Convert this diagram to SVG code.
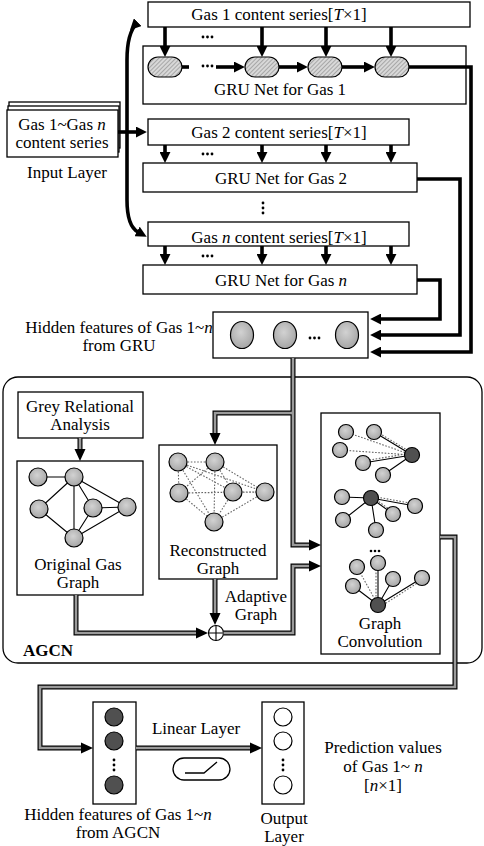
<svg xmlns="http://www.w3.org/2000/svg" width="484" height="846" viewBox="0 0 484 846">
<style>
.box{fill:#fff;stroke:#000;stroke-width:1.3}
.t{font-family:"Liberation Serif","Times New Roman",serif;font-size:17px;fill:#000;text-anchor:middle}
.b{font-weight:bold}
.thick{stroke:#000;stroke-width:3.6;fill:none}
.dout{stroke:#000;stroke-width:5;fill:none}
.din{stroke:#9a9a9a;stroke-width:2.6;fill:none}
.nd{fill:url(#ng);stroke:#000;stroke-width:1.2}
.dk{fill:#505050;stroke:#000;stroke-width:1.2}
.e{stroke:#000;stroke-width:1.1;fill:none}
.ed{stroke:#666;stroke-width:1.1;stroke-dasharray:1.6 1.6;fill:none}
.dot{fill:#000}
</style>
<defs>
<radialGradient id="ng" cx="0.45" cy="0.4" r="0.6">
<stop offset="0" stop-color="#d2d2d2"/>
<stop offset="1" stop-color="#a6a6a6"/>
</radialGradient>
<pattern id="hatch" patternUnits="userSpaceOnUse" width="3" height="3" patternTransform="rotate(45)">
<rect width="3" height="3" fill="#d8d8d8"/>
<line x1="0" y1="0" x2="0" y2="3" stroke="#777" stroke-width="1"/>
</pattern>
<marker id="ah" markerUnits="userSpaceOnUse" viewBox="0 0 10 10" refX="1" refY="5" markerWidth="11" markerHeight="11" orient="auto">
<path d="M0,0 L10,5 L0,10 z" fill="#000"/>
</marker>
</defs>

<!-- Input layer -->
<g id="input-layer">
<rect class="box" x="9" y="102" width="111" height="46"/>
<rect class="box" x="8" y="106" width="111" height="46"/>
<rect class="box" x="7" y="110" width="111" height="47"/>
<text class="t" x="62" y="130">Gas 1~Gas <tspan font-style="italic">n</tspan></text>
<text class="t" x="62" y="148">content series</text>
<text class="t" x="67" y="178">Input Layer</text>
</g>

<!-- Gas 1 -->
<g id="gas1-series">
<rect class="box" x="148" y="2" width="322" height="25"/>
<text class="t" x="279" y="20">Gas 1 content series[<tspan font-style="italic">T</tspan>×1]</text>
</g>
<g id="gru1">
<rect class="box" x="143" y="46" width="323" height="58"/>
<rect x="148" y="57" width="34" height="20" rx="10" fill="url(#hatch)" stroke="#000" stroke-width="1.2"/>
<rect x="245" y="57" width="34" height="20" rx="10" fill="url(#hatch)" stroke="#000" stroke-width="1.2"/>
<rect x="308" y="57" width="34" height="20" rx="10" fill="url(#hatch)" stroke="#000" stroke-width="1.2"/>
<rect x="375" y="57" width="34" height="20" rx="10" fill="url(#hatch)" stroke="#000" stroke-width="1.2"/>
<circle class="dot" cx="203" cy="66" r="1.4"/><circle class="dot" cx="207.5" cy="66" r="1.4"/><circle class="dot" cx="212" cy="66" r="1.4"/>
<text class="t" x="280" y="95">GRU Net for Gas 1</text>
</g>

<!-- Gas 2 -->
<g id="gas2-series">
<rect class="box" x="148" y="119" width="261" height="26"/>
<text class="t" x="279" y="138">Gas 2 content series[<tspan font-style="italic">T</tspan>×1]</text>
</g>
<g id="gru2">
<rect class="box" x="143" y="163" width="274" height="29"/>
<text class="t" x="281" y="184">GRU Net for Gas 2</text>
</g>

<!-- Gas n -->
<g id="gasn-series">
<rect class="box" x="148" y="222" width="261" height="24"/>
<text class="t" x="279" y="243">Gas <tspan font-style="italic">n</tspan> content series[<tspan font-style="italic">T</tspan>×1]</text>
</g>
<g id="grun">
<rect class="box" x="143" y="265" width="274" height="29"/>
<text class="t" x="281" y="286">GRU Net for Gas <tspan font-style="italic">n</tspan></text>
</g>

<!-- dots between -->
<g id="ellipses-gru">
<circle class="dot" cx="203" cy="37" r="1.4"/><circle class="dot" cx="207.5" cy="37" r="1.4"/><circle class="dot" cx="212" cy="37" r="1.4"/>
<circle class="dot" cx="203" cy="154" r="1.4"/><circle class="dot" cx="207.5" cy="154" r="1.4"/><circle class="dot" cx="212" cy="154" r="1.4"/>
<circle class="dot" cx="203" cy="256" r="1.4"/><circle class="dot" cx="207.5" cy="256" r="1.4"/><circle class="dot" cx="212" cy="256" r="1.4"/>
<circle class="dot" cx="263" cy="203" r="1.4"/><circle class="dot" cx="263" cy="208" r="1.4"/><circle class="dot" cx="263" cy="213" r="1.4"/>
</g>

<!-- Hidden features GRU -->
<g id="hidden-gru">
<rect class="box" x="213" y="312" width="155" height="46"/>
<ellipse class="nd" cx="242" cy="335" rx="11.5" ry="13.5"/>
<ellipse class="nd" cx="285" cy="335" rx="11.5" ry="13.5"/>
<ellipse class="nd" cx="347" cy="335" rx="11.5" ry="13.5"/>
<circle class="dot" cx="310" cy="338" r="1.4"/><circle class="dot" cx="314.5" cy="338" r="1.4"/><circle class="dot" cx="319" cy="338" r="1.4"/>
<text class="t" x="119" y="333">Hidden features of Gas 1~<tspan font-style="italic">n</tspan></text>
<text class="t" x="119" y="351">from GRU</text>
</g>

<!-- AGCN container -->
<g id="agcn">
<rect x="3" y="377" width="479" height="286" rx="15" fill="none" stroke="#000" stroke-width="1.3"/>
<text class="t b" x="48" y="656">AGCN</text>
</g>

<g id="grey-relational">
<rect class="box" x="18" y="392" width="125" height="46"/>
<text class="t" x="80" y="412">Grey Relational</text>
<text class="t" x="80" y="430">Analysis</text>
</g>

<g id="original-graph">
<rect class="box" x="17" y="461" width="126" height="134"/>
<path class="e" d="M38,477 L74,477 M74,477 L39,509 M74,477 L74,538 M74,477 L93,508 M74,477 L127,507 M93,508 L127,507 M93,508 L74,538 M39,509 L74,538 M74,538 L127,507"/>
<circle class="nd" cx="38" cy="477" r="9"/>
<circle class="nd" cx="74" cy="477" r="9"/>
<circle class="nd" cx="39" cy="509" r="9"/>
<circle class="nd" cx="93" cy="508" r="9"/>
<circle class="nd" cx="127" cy="507" r="9"/>
<circle class="nd" cx="74" cy="538" r="9"/>
<text class="t" x="78" y="570">Original Gas</text>
<text class="t" x="78" y="588">Graph</text>
</g>

<g id="reconstructed-graph">
<rect class="box" x="159" y="445" width="118" height="134"/>
<path class="ed" d="M178,462 L215,462 M178,462 L179,493 M178,462 L233,492 M178,462 L265,492 M178,462 L214,522 M215,462 L179,493 M215,462 L233,492 M215,462 L265,492 M215,462 L214,522 M179,493 L233,492 M179,493 L214,522 M233,492 L265,492 M233,492 L214,522 M265,492 L214,522 M179,493 L265,492"/>
<circle class="nd" cx="178" cy="462" r="9"/>
<circle class="nd" cx="215" cy="462" r="9"/>
<circle class="nd" cx="179" cy="493" r="9"/>
<circle class="nd" cx="233" cy="492" r="9"/>
<circle class="nd" cx="265" cy="492" r="9"/>
<circle class="nd" cx="214" cy="522" r="9"/>
<text class="t" x="218" y="556">Reconstructed</text>
<text class="t" x="218" y="574">Graph</text>
</g>

<g id="adaptive-sum">
<circle cx="216" cy="633" r="7.5" fill="#fff" stroke="#000" stroke-width="1.2"/>
<path d="M208.5,633 H223.5 M216,625.5 V640.5" stroke="#000" stroke-width="1.1"/>
<text class="t" x="256" y="602">Adaptive</text>
<text class="t" x="256" y="620">Graph</text>
</g>

<g id="graph-convolution">
<rect class="box" x="321" y="413" width="119" height="241"/>
<!-- group 1 -->
<path class="ed" d="M346,432 L412,455 M374,430 L412,453 M340,450 L412,455 M363,461 L412,453"/>
<path class="e" d="M374,432 L412,455 M363,463 L412,455 M383,475 L412,455"/>
<circle class="nd" cx="346" cy="432" r="7.5"/>
<circle class="nd" cx="374" cy="432" r="7.5"/>
<circle class="nd" cx="340" cy="450" r="7.5"/>
<circle class="nd" cx="363" cy="463" r="7.5"/>
<circle class="nd" cx="383" cy="475" r="7.5"/>
<circle class="dk" cx="412" cy="455" r="7.5"/>
<!-- group 2 -->
<path class="ed" d="M371,496 L393,512 M371,496 L415,504"/>
<path class="e" d="M371,498 L342,497 M371,498 L343,520 M371,498 L376,530 M371,498 L393,514 M371,498 L415,506"/>
<circle class="nd" cx="342" cy="497" r="7.5"/>
<circle class="nd" cx="343" cy="520" r="7.5"/>
<circle class="nd" cx="376" cy="530" r="7.5"/>
<circle class="nd" cx="393" cy="514" r="7.5"/>
<circle class="nd" cx="415" cy="506" r="7.5"/>
<circle class="dk" cx="371" cy="498" r="7.5"/>
<circle class="dot" cx="371" cy="551" r="1.3"/><circle class="dot" cx="375" cy="551" r="1.3"/><circle class="dot" cx="379" cy="551" r="1.3"/>
<!-- group 3 -->
<path class="ed" d="M357,567 L378,605 M376,563 L376,605 M422,580 L380,607"/>
<path class="e" d="M378,563 L378,605 M393,579 L378,605 M422,578 L378,605 M353,586 L378,605"/>
<circle class="nd" cx="357" cy="567" r="7.5"/>
<circle class="nd" cx="378" cy="563" r="7.5"/>
<circle class="nd" cx="393" cy="579" r="7.5"/>
<circle class="nd" cx="422" cy="578" r="7.5"/>
<circle class="nd" cx="353" cy="586" r="7.5"/>
<circle class="dk" cx="378" cy="605" r="7.5"/>
<text class="t" x="380" y="629">Graph</text>
<text class="t" x="380" y="647">Convolution</text>
</g>

<!-- Bottom -->
<g id="hidden-agcn">
<rect class="box" x="93" y="702" width="43" height="102"/>
<circle class="dk" cx="114" cy="717" r="9" fill="#5a5a5a"/>
<circle class="dk" cx="114" cy="741" r="9" fill="#5a5a5a"/>
<circle class="dot" cx="114" cy="760" r="1.4"/><circle class="dot" cx="114" cy="765" r="1.4"/><circle class="dot" cx="114" cy="770" r="1.4"/>
<circle class="dk" cx="114" cy="785" r="9" fill="#5a5a5a"/>
<text class="t" x="118" y="820">Hidden features of Gas 1~<tspan font-style="italic">n</tspan></text>
<text class="t" x="118" y="838">from AGCN</text>
</g>

<g id="linear-layer">
<text class="t" x="196" y="734">Linear Layer</text>
<rect x="173" y="758" width="57" height="22" rx="11" fill="#fff" stroke="#000" stroke-width="1.3"/>
<path d="M185,773 L204,773 L217,762" fill="none" stroke="#000" stroke-width="1.3"/>
</g>

<g id="output-layer">
<rect class="box" x="262" y="702" width="42" height="102"/>
<circle cx="283" cy="717" r="9" fill="#fff" stroke="#000" stroke-width="1.2"/>
<circle cx="283" cy="741" r="9" fill="#fff" stroke="#000" stroke-width="1.2"/>
<circle class="dot" cx="283" cy="760" r="1.4"/><circle class="dot" cx="283" cy="765" r="1.4"/><circle class="dot" cx="283" cy="770" r="1.4"/>
<circle cx="283" cy="785" r="9" fill="#fff" stroke="#000" stroke-width="1.2"/>
<text class="t" x="284" y="824">Output</text>
<text class="t" x="284" y="842">Layer</text>
</g>

<g id="prediction">
<text class="t" x="383" y="753">Prediction values</text>
<text class="t" x="383" y="772">of Gas 1~ <tspan font-style="italic">n</tspan></text>
<text class="t" x="383" y="791">[<tspan font-style="italic">n</tspan>×1]</text>
</g>

<!-- Connectors -->
<g id="connectors">
<!-- input brace -->
<path class="thick" d="M137,23 Q127,33 127,60 L127,200 Q127,226 138,232" marker-start="url(#ah)" marker-end="url(#ah)"/>
<path class="thick" d="M118,132 L137,132" marker-end="url(#ah)"/>
<!-- series to GRU arrows -->
<path class="thick" d="M165,27 V47" marker-end="url(#ah)"/>
<path class="thick" d="M262,27 V47" marker-end="url(#ah)"/>
<path class="thick" d="M326,27 V47" marker-end="url(#ah)"/>
<path class="thick" d="M391,27 V47" marker-end="url(#ah)"/>
<path class="thick" d="M165,145 V153" marker-end="url(#ah)"/>
<path class="thick" d="M262,145 V153" marker-end="url(#ah)"/>
<path class="thick" d="M326,145 V153" marker-end="url(#ah)"/>
<path class="thick" d="M391,145 V153" marker-end="url(#ah)"/>
<path class="thick" d="M165,246 V255" marker-end="url(#ah)"/>
<path class="thick" d="M262,246 V255" marker-end="url(#ah)"/>
<path class="thick" d="M326,246 V255" marker-end="url(#ah)"/>
<path class="thick" d="M391,246 V255" marker-end="url(#ah)"/>
<!-- GRU chain -->
<path class="thick" d="M182,67 H189"/>
<path class="thick" d="M216,67 H235" marker-end="url(#ah)"/>
<path class="thick" d="M279,67 H298" marker-end="url(#ah)"/>
<path class="thick" d="M342,67 H365" marker-end="url(#ah)"/>
<!-- GRU outputs to hidden features -->
<path class="thick" d="M409,67 H471 V352 H380" marker-end="url(#ah)"/>
<path class="thick" d="M417,179 H460 V335 H380" marker-end="url(#ah)"/>
<path class="thick" d="M417,280 H440 V319 H380" marker-end="url(#ah)"/>
<!-- AGCN double lines: outer -->
<path class="dout" d="M293,358 V545 H309"/>
<path class="dout" d="M293,413 H215 V433"/>
<path class="dout" d="M80,438 V449"/>
<path class="dout" d="M76,595 V633 H196"/>
<path class="dout" d="M215,579 V613"/>
<path class="dout" d="M223.5,633 H293 V566 H309"/>
<path class="dout" d="M440,537 H455 V687 H40 V748 H81"/>
<path class="dout" d="M136,748 H250"/>
<!-- inner -->
<path class="din" d="M293,358 V545 H309"/>
<path class="din" d="M293,413 H215 V433"/>
<path class="din" d="M80,438 V449"/>
<path class="din" d="M76,595 V633 H196"/>
<path class="din" d="M215,579 V613"/>
<path class="din" d="M223.5,633 H293 V566 H309"/>
<path class="din" d="M440,537 H455 V687 H40 V748 H81"/>
<path class="din" d="M136,748 H250"/>
<!-- arrowheads -->
<path d="M309,539.5 L321,545 L309,550.5 z M309,560.5 L321,566 L309,571.5 z M209.5,433 L215,445 L220.5,433 z M74.5,449 L80,461 L85.5,449 z M196,627.5 L208,633 L196,638.5 z M209.5,613 L215,625 L220.5,613 z M81,742.5 L93,748 L81,753.5 z M250,742.5 L262,748 L250,753.5 z" fill="#000"/>
</g>
</svg>
